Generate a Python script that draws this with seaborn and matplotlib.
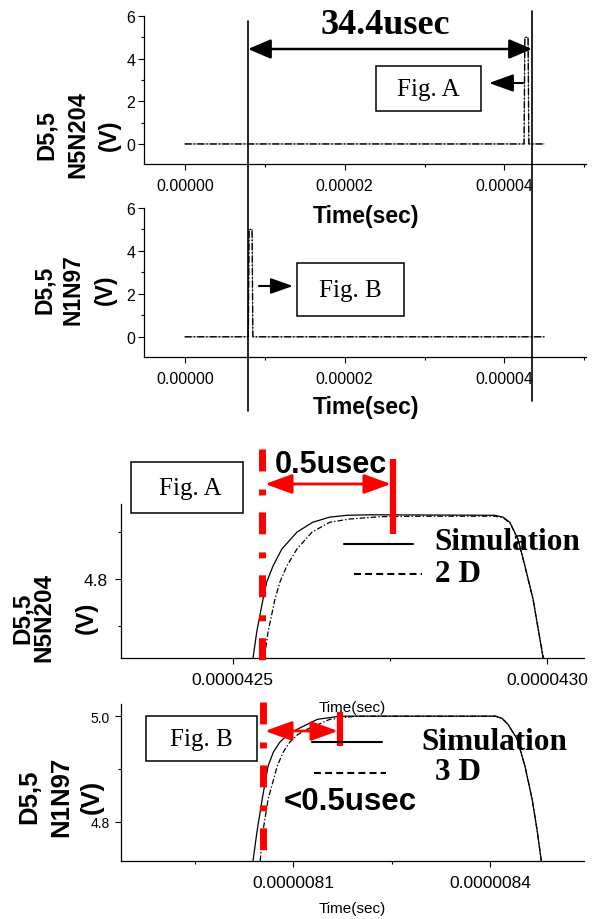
import numpy as np
import pandas as pd
import matplotlib
matplotlib.use("Agg")
import matplotlib.pyplot as plt
import seaborn as sns
from matplotlib.lines import Line2D
from matplotlib.patches import Rectangle, FancyArrowPatch

# ---------------- data (time in microseconds, voltage in V) ----------------
# overview: node N5N204 (Fig. A) and node N1N97 (Fig. B)
ovA_t = [0.0, 42.45, 42.55, 42.95, 43.05, 45.0]
ovA_v = [0.0, 0.0, 5.0, 5.0, 0.0, 0.0]
ovB_t = [0.0, 7.95, 8.05, 8.42, 8.52, 45.0]
ovB_v = [0.0, 0.0, 5.0, 5.0, 0.0, 0.0]

# zoom Fig. A : simulation (solid) and 2 D device (dash-dot)
simA_t = [42.532, 42.538, 42.548, 42.554, 42.564, 42.578, 42.602, 42.627, 42.654,
          42.682, 42.720, 42.917, 42.930, 42.941, 42.954, 42.965, 42.978, 42.987, 42.994]
simA_v = [4.630, 4.687, 4.757, 4.794, 4.828, 4.864, 4.900, 4.921, 4.932,
          4.936, 4.937, 4.936, 4.932, 4.921, 4.885, 4.828, 4.757, 4.687, 4.630]
devA_t = [42.550, 42.556, 42.567, 42.575, 42.586, 42.602, 42.626, 42.654, 42.686,
          42.734, 42.803, 42.917, 42.930, 42.941, 42.954, 42.965, 42.978, 42.987, 42.995]
devA_v = [4.630, 4.687, 4.757, 4.794, 4.828, 4.864, 4.900, 4.921, 4.928,
          4.933, 4.934, 4.934, 4.931, 4.920, 4.884, 4.827, 4.756, 4.686, 4.630]

# zoom Fig. B : simulation (solid) and 3 D device (dash-dot)
simB_t = [8.039, 8.045, 8.053, 8.062, 8.070, 8.080, 8.092, 8.106, 8.137, 8.172, 8.408,
          8.418, 8.427, 8.441, 8.453, 8.464, 8.472, 8.478]
simB_v = [4.726, 4.781, 4.843, 4.906, 4.932, 4.951, 4.965, 4.975, 4.994, 5.000, 5.000,
          4.996, 4.985, 4.957, 4.906, 4.843, 4.781, 4.726]
devB_t = [8.050, 8.054, 8.062, 8.076, 8.085, 8.095, 8.107, 8.121, 8.156, 8.195, 8.408,
          8.418, 8.427, 8.441, 8.453, 8.464, 8.472, 8.478]
devB_v = [4.726, 4.781, 4.843, 4.906, 4.932, 4.951, 4.965, 4.975, 4.994, 5.000, 5.000,
          4.996, 4.985, 4.957, 4.906, 4.843, 4.781, 4.726]

# tick labels
ov_xticks = [0.0, 2e-5, 4e-5]
ov_xlabels = ["0.00000", "0.00002", "0.00004"]
ov_yticks = [0, 2, 4, 6]
zA_xticks = [4.25e-5, 4.30e-5]
zA_xlabels = ["0.0000425", "0.0000430"]
zB_xticks = [8.1e-6, 8.4e-6]
zB_xlabels = ["0.0000081", "0.0000084"]

US = 1e-6

# ---------------- figure ----------------
sns.set_theme(style="ticks")
plt.rcParams["font.family"] = ["Liberation Sans", "DejaVu Sans"]
plt.rcParams["lines.scale_dashes"] = False
plt.rcParams["text.color"] = "black"
plt.rcParams["axes.labelcolor"] = "black"

W, H = 596, 920
fig = plt.figure(figsize=(W / 100, H / 100), dpi=100)
fig.patch.set_facecolor("white")


def P(x, y):
    return (x / W, 1 - y / H)


def axes_px(l, t, r, b):
    return fig.add_axes([l / W, 1 - b / H, (r - l) / W, (b - t) / H])


def style(ax, labelsize, xpad, ypad, ylabelsize=None):
    for s in ["top", "right"]:
        ax.spines[s].set_visible(False)
    for s in ["left", "bottom"]:
        ax.spines[s].set_color("black")
        ax.spines[s].set_linewidth(0.9)
    ax.set_facecolor("white")
    ax.tick_params(which="major", direction="out", length=4.3, width=0.8,
                   color="black", labelcolor="black")
    ax.tick_params(which="minor", direction="out", length=2.3, width=0.8,
                   color="black")
    ax.tick_params(axis="x", labelsize=labelsize, pad=xpad)
    ax.tick_params(axis="y", labelsize=ylabelsize or labelsize, pad=ypad)
    ax.set_xlabel("")
    ax.set_ylabel("")


ax1 = axes_px(144, 17, 586, 165)
ax2 = axes_px(144, 209, 586, 358)
ax3 = axes_px(121, 505, 584, 659)
ax4 = axes_px(121, 705, 584, 862)

# overview panels
for ax, t, v in [(ax1, ovA_t, ovA_v), (ax2, ovB_t, ovB_v)]:
    tt = np.array(t) * US
    sns.lineplot(x=tt, y=v, ax=ax, estimator=None, sort=False,
                 color="#555555", linewidth=0.5)
    sns.lineplot(x=tt, y=v, ax=ax, estimator=None, sort=False,
                 color="black", linewidth=1.0, linestyle=(0, (5, 1.5, 1, 1.5)))
    ax.set_xlim(-5.1e-6, 5.02e-5)
    ax.set_ylim(-0.94, 6.0)
    ax.set_xticks(ov_xticks, labels=ov_xlabels)
    ax.set_xticks([1e-5, 3e-5, 5e-5], minor=True)
    ax.set_yticks(ov_yticks, labels=[str(k) for k in ov_yticks])
    ax.set_yticks([1, 3, 5], minor=True)
    style(ax, 11.5, 5.5, 2)

# zoom panels
for ax, st, sv, dt, dv in [(ax3, simA_t, simA_v, devA_t, devA_v),
                           (ax4, simB_t, simB_v, devB_t, devB_v)]:
    sns.lineplot(x=np.array(st) * US, y=sv, ax=ax, estimator=None, sort=False,
                 color="black", linewidth=0.9)
    sns.lineplot(x=np.array(dt) * US, y=dv, ax=ax, estimator=None, sort=False,
                 color="black", linewidth=0.9, linestyle=(0, (4, 1.5, 1, 1.5)))

ax3.set_xlim(42.322 * US, 43.059 * US)
ax3.set_ylim(4.632, 4.96)
ax3.set_xticks(zA_xticks, labels=zA_xlabels)
ax3.set_xticks([4.275e-5], minor=True)
ax3.set_yticks([4.8], labels=["4.8"])
ax3.set_yticks([4.7, 4.9], minor=True)
style(ax3, 12.5, 6, 5)

ax4.set_xlim(7.838 * US, 8.543 * US)
ax4.set_ylim(4.726, 5.023)
ax4.set_xticks(zB_xticks, labels=zB_xlabels)
ax4.set_xticks([7.95e-6, 8.25e-6], minor=True)
ax4.set_yticks([4.8, 5.0], labels=["4.8", "5.0"])
ax4.set_yticks([4.9], minor=True)
style(ax4, 12.5, 6, 3.5, ylabelsize=10)

# ---------------- axis labels ----------------
SANS = ["Liberation Sans", "DejaVu Sans"]
SERIF = ["Liberation Serif", "DejaVu Serif"]


def ftext(x, y, s, **kw):
    kw.setdefault("ha", "center")
    kw.setdefault("va", "center")
    kw.setdefault("color", "black")
    fig.text(*P(x, y), s, **kw)


ftext(366, 217, "Time(sec)", fontsize=16.5, weight="bold", family=SANS)
ftext(366, 408, "Time(sec)", fontsize=16.5, weight="bold", family=SANS)
ftext(352, 708, "Time(sec)", fontsize=11, family=SANS)
ftext(352, 909, "Time(sec)", fontsize=11, family=SANS)

for xs, y, lines, fs in [((46, 78, 109), 135, ("D5,5", "N5N204", "(V)"), 17),
                         ((44, 73, 105), 290, ("D5,5", "N1N97", "(V)"), 16.5),
                         ((22, 44, 86), 618, ("D5,5", "N5N204", "(V)"), 17.5),
                         ((29, 61, 92), 797, ("D5,5", "N1N97", "(V)"), 18.5)]:
    for x, s in zip(xs, lines):
        ftext(x, y, s, rotation=90, fontsize=fs, weight="bold", family=SANS)

# ---------------- annotations (figure pixel space) ----------------
def fline(x0, y0, x1, y1, **kw):
    (a, b), (c, d) = P(x0, y0), P(x1, y1)
    fig.add_artist(Line2D([a, c], [b, d], transform=fig.transFigure, **kw))


def farrow(x0, y0, x1, y1, style_, lw, color="black"):
    fig.add_artist(FancyArrowPatch(P(x0, y0), P(x1, y1), transform=fig.transFigure,
                                   arrowstyle=style_, mutation_scale=20, lw=lw,
                                   color=color, shrinkA=0, shrinkB=0))


def fbox(x0, y0, x1, y1, lw=1.1):
    fig.add_artist(Rectangle(P(x0, y1), (x1 - x0) / W, (y1 - y0) / H,
                             transform=fig.transFigure, fill=False,
                             edgecolor="black", lw=lw))


# vertical markers spanning the overview panels
fline(248, 22, 248, 412, color="black", lw=1.2)
fline(532, 12, 532, 402, color="black", lw=1.2)
farrow(248, 50, 532, 50, "<|-|>,head_length=0.7,head_width=0.3", 1.8)
ftext(385, 25, "34.4usec", fontsize=26, weight="bold", family=SERIF)

fbox(376, 67, 481, 112)
ftext(428, 90, "Fig. A", fontsize=18, family=SERIF)
farrow(523, 84, 489, 84, "-|>,head_length=0.75,head_width=0.27", 1.5)

fbox(297, 264, 404, 317)
ftext(350, 291, "Fig. B", fontsize=18, family=SERIF)
farrow(259, 287, 293, 287, "-|>,head_length=0.68,head_width=0.24", 1.5)

RED = "#ff0000"
DASHDOT_RED = (0, (15.8, 13.0, 4.3, 12.2))

# Fig. A zoom
fbox(131, 463, 243, 514)
ftext(190, 489, "Fig. A", fontsize=18, family=SERIF)
fline(262, 450, 262, 663, color=RED, lw=5, linestyle=DASHDOT_RED,
      dash_capstyle="butt")
fline(393, 460, 393, 535, color=RED, lw=4.5, solid_capstyle="butt")
farrow(265, 485, 391, 485, "<|-|>,head_length=0.83,head_width=0.3", 2, RED)
ftext(331, 465, "0.5usec", fontsize=22, weight="bold", family=SANS)
fline(344, 545, 413, 545, color="black", lw=1.5)
fline(354, 575, 422, 575, color="black", lw=1.5, linestyle=(0, (5, 3)))
ftext(507, 543, "Simulation", fontsize=22.5, weight="bold", family=SERIF)
ftext(435, 575, "2 D", fontsize=22.5, weight="bold", family=SERIF, ha="left")

# Fig. B zoom
fbox(146, 717, 257, 762)
ftext(201, 740, "Fig. B", fontsize=18, family=SERIF)
fline(263, 703, 263, 853, color=RED, lw=5, linestyle=DASHDOT_RED,
      dash_capstyle="butt")
fline(340, 713, 340, 747, color=RED, lw=4.5, solid_capstyle="butt")
farrow(265, 732, 338, 732, "<|-|>,head_length=0.83,head_width=0.3", 2, RED)
ftext(350, 802, "<0.5usec", fontsize=22.5, weight="bold", family=SANS)
fline(312, 743, 382, 743, color="black", lw=1.5)
fline(314, 774, 386, 774, color="black", lw=1.5, linestyle=(0, (5, 3)))
ftext(494, 743, "Simulation", fontsize=22.5, weight="bold", family=SERIF)
ftext(435, 772, "3 D", fontsize=22.5, weight="bold", family=SERIF, ha="left")

fig.savefig("out.png", dpi=100, facecolor="white")
